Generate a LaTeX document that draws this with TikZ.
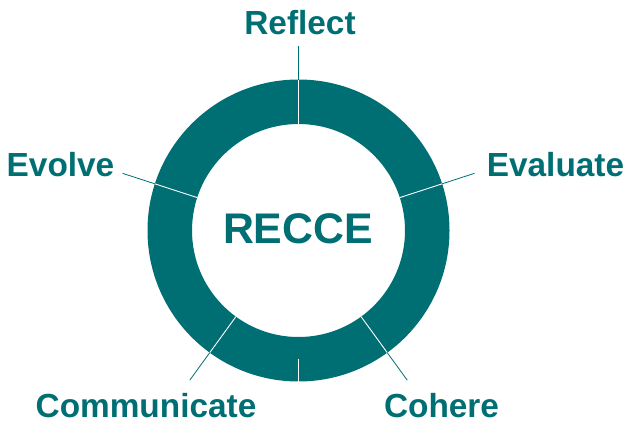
\documentclass[tikz,border=0pt]{standalone}
\usepackage{fontspec}
\setmainfont{Liberation Sans}
\definecolor{recceteal}{RGB}{0,111,115}
\tikzset{
  lbl/.style={anchor=base, inner sep=0pt, text depth=0pt, text=recceteal, font=\bfseries\fontsize{33.5}{33.5}\selectfont},
  centrelbl/.style={anchor=base, inner sep=0pt, text depth=0pt, text=recceteal, font=\bfseries\fontsize{43}{43}\selectfont},
  leader/.style={draw=recceteal, line width=0.8bp},
  divider/.style={draw=white, line width=0.9bp},
}
\begin{document}
\begin{tikzpicture}[x=1bp,y=1bp]
\useasboundingbox (0,0) rectangle (627,423);
\coordinate (C) at (298.5,192.5);
\fill[recceteal, even odd rule] (C) circle[radius=151] (C) circle[radius=106.5];
\foreach \k/\a in {reflect/90, evaluate/18, cohere/-54, communicate/-126, evolve/162}{
  \coordinate (in-\k) at ([shift={(\a:106.5)}]C);
  \coordinate (ring-\k) at ([shift={(\a:151)}]C);
  \coordinate (tip-\k) at ([shift={(\a:185)}]C);
  \draw[divider] (in-\k) -- (ring-\k);
  \draw[leader] (ring-\k) -- (tip-\k);
}
\coordinate (seam-in) at ([shift={(270:128)}]C);
\coordinate (seam-out) at ([shift={(270:151)}]C);
\draw[draw=white, line width=0.5bp] (seam-in) -- (seam-out);
\node[lbl] (reflect) at (300,388) {Reflect};
\node[lbl] (evolve) at (60.5,247) {Evolve};
\node[lbl] (evaluate) at (555.5,247) {Evaluate};
\node[lbl] (communicate) at (146,5.5) {Communicate};
\node[lbl] (cohere) at (441.5,5.5) {Cohere};
\node[centrelbl] (recce) at (298,180) {RECCE};
\end{tikzpicture}
\end{document}
